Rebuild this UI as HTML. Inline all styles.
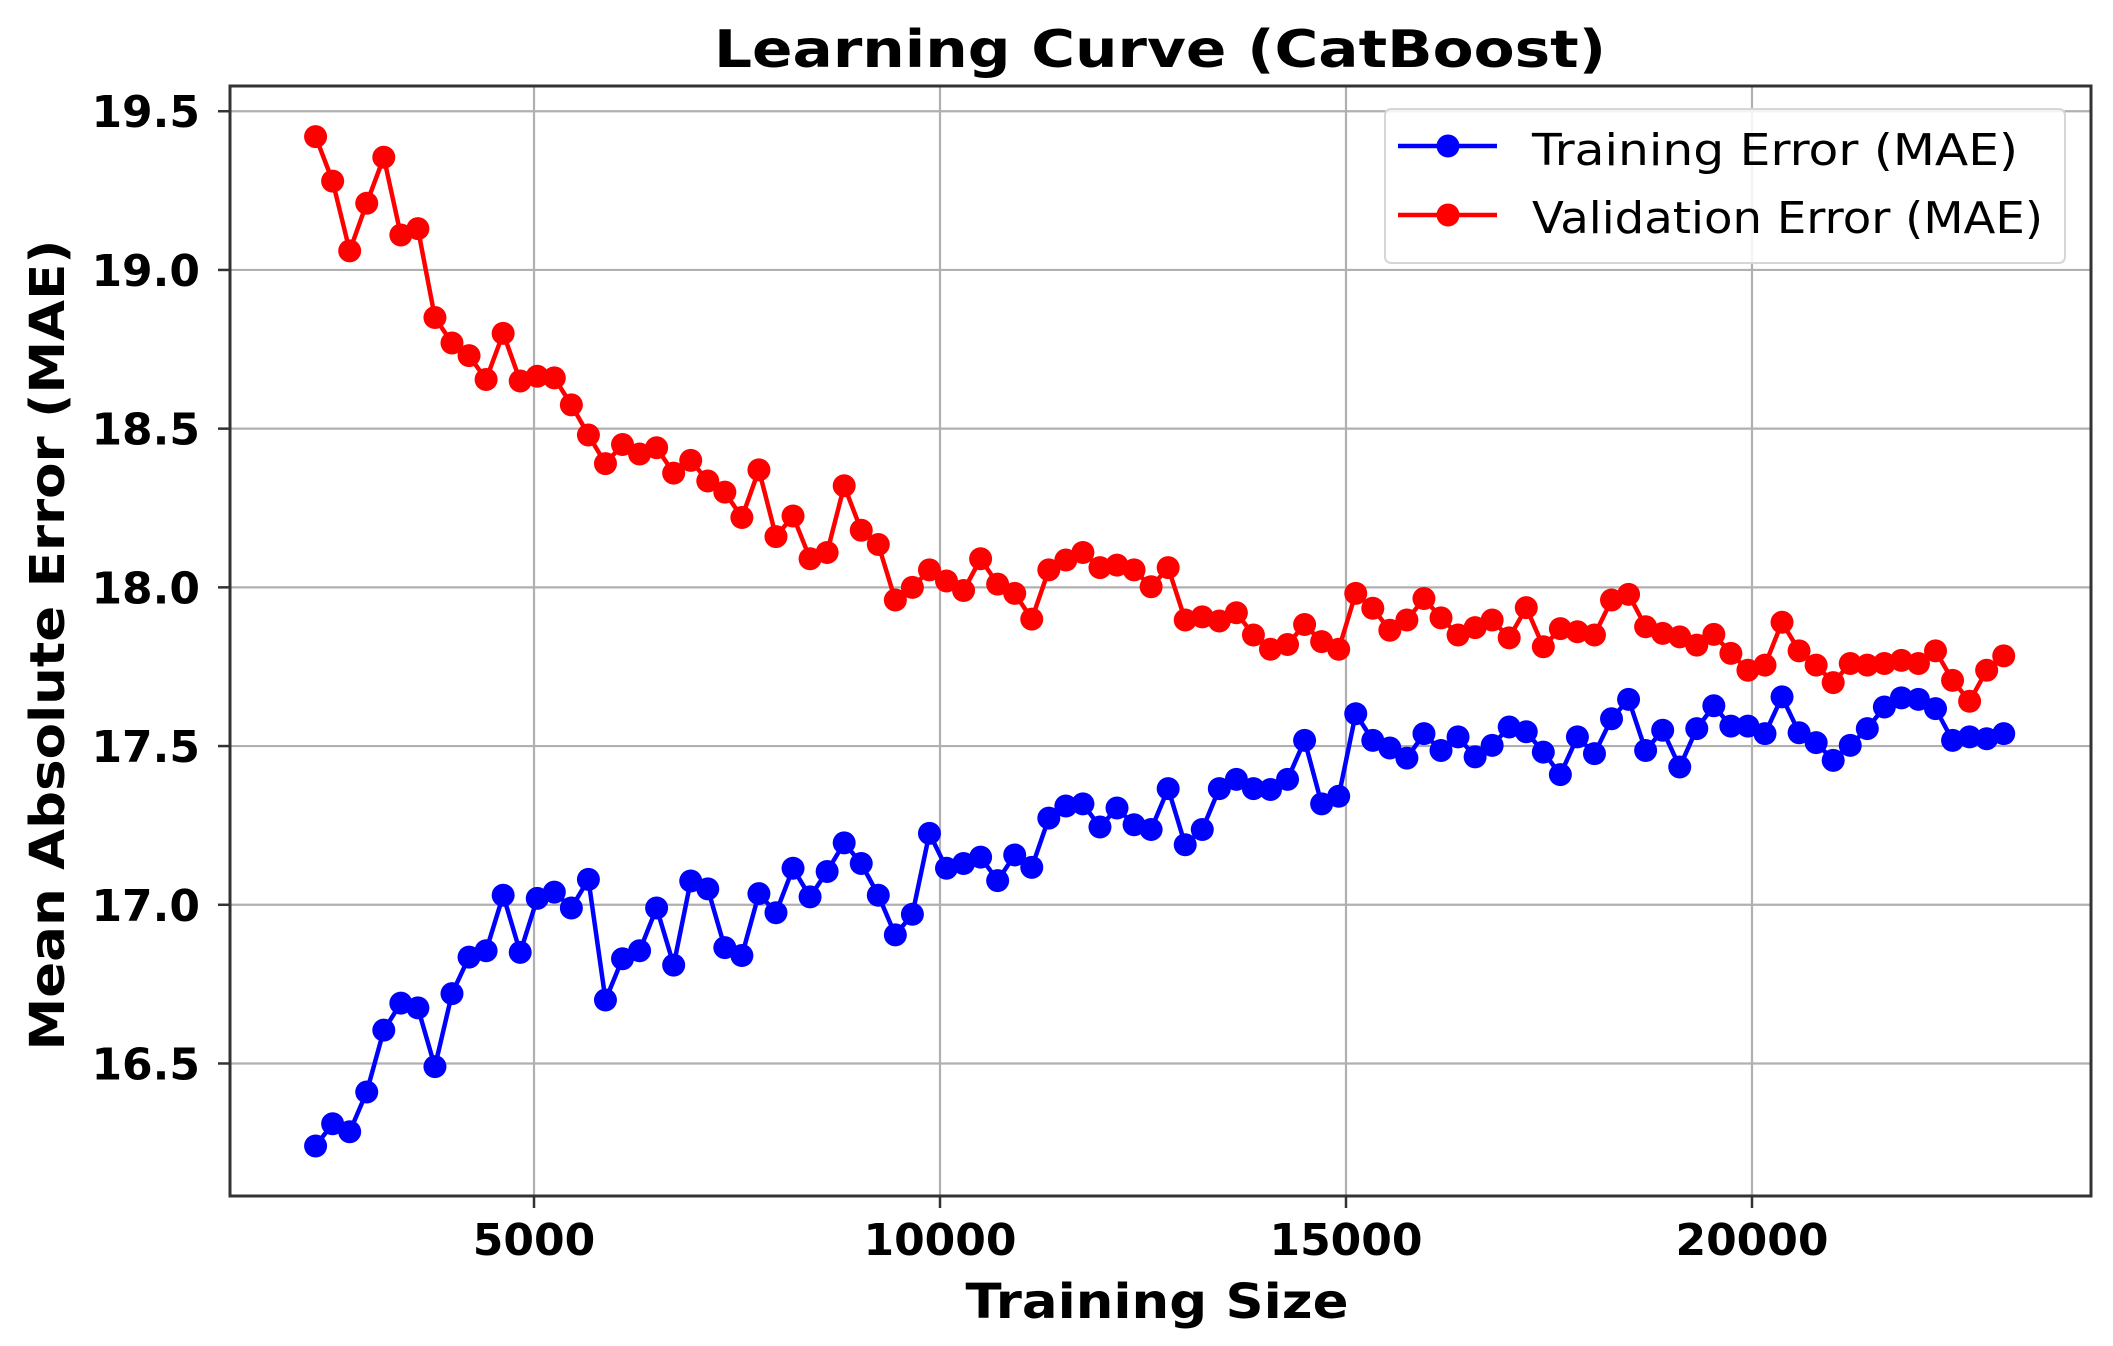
<!DOCTYPE html>
<html><head><meta charset="utf-8"><style>
html,body{margin:0;padding:0;background:#fff;width:2113px;height:1346px;overflow:hidden}
svg{display:block}
text{font-family:"DejaVu Sans","Liberation Sans",sans-serif}
</style></head><body>
<svg id="chart" width="2113" height="1346" viewBox="0 0 2113 1346" xmlns="http://www.w3.org/2000/svg"></svg>
<script>
const trainSizes = [];
const sizeStart = 2310, sizeStep = 210, sizeCount = 100;
for (let i = 0; i < sizeCount; i++) trainSizes.push(sizeStart + sizeStep * i);
const trainError = [16.24,16.31,16.285,16.41,16.605,16.69,16.675,16.49,16.72,16.835,16.855,17.03,16.85,17.02,17.04,16.99,17.08,16.70,16.83,16.855,16.99,16.81,17.075,17.05,16.865,16.84,17.035,16.975,17.115,17.025,17.105,17.195,17.13,17.03,16.905,16.97,17.225,17.115,17.13,17.15,17.076,17.157,17.118,17.273,17.311,17.318,17.245,17.305,17.252,17.237,17.366,17.189,17.237,17.366,17.395,17.366,17.363,17.395,17.518,17.318,17.342,17.602,17.518,17.494,17.462,17.539,17.486,17.529,17.466,17.502,17.56,17.545,17.481,17.41,17.529,17.476,17.586,17.647,17.486,17.55,17.434,17.555,17.627,17.563,17.563,17.539,17.655,17.542,17.511,17.455,17.502,17.555,17.623,17.652,17.647,17.618,17.518,17.529,17.523,17.539];
const valError = [19.42,19.28,19.06,19.21,19.355,19.11,19.13,18.85,18.77,18.73,18.655,18.80,18.65,18.665,18.66,18.575,18.48,18.39,18.45,18.42,18.44,18.36,18.40,18.335,18.30,18.22,18.37,18.16,18.225,18.09,18.11,18.32,18.18,18.135,17.96,18.0,18.055,18.02,17.99,18.09,18.01,17.981,17.90,18.055,18.086,18.11,18.062,18.07,18.055,18.002,18.062,17.897,17.907,17.894,17.92,17.85,17.805,17.82,17.883,17.829,17.805,17.981,17.934,17.865,17.897,17.965,17.904,17.85,17.873,17.897,17.841,17.936,17.813,17.87,17.86,17.85,17.96,17.978,17.876,17.855,17.844,17.818,17.852,17.792,17.739,17.755,17.89,17.80,17.755,17.70,17.76,17.755,17.76,17.77,17.76,17.80,17.707,17.641,17.739,17.784];
const xTicks = [5000,10000,15000,20000];
const xTickLabels = ["5000","10000","15000","20000"];
const yTicks = [16.5,17.0,17.5,18.0,18.5,19.0,19.5];
const yTickLabels = ["16.5","17.0","17.5","18.0","18.5","19.0","19.5"];

const NS = "http://www.w3.org/2000/svg";
const svg = document.getElementById("chart");
const L = 230, R = 2091, T = 86, B = 1196;
const xMin = 1256, xMax = 24175, yMin = 16.0825, yMax = 19.5795;
function xs(v){ return L + (v - xMin) / (xMax - xMin) * (R - L); }
function ys(v){ return B - (v - yMin) / (yMax - yMin) * (B - T); }
function el(tag, attrs, parent){
  const e = document.createElementNS(NS, tag);
  for (const k in attrs) e.setAttribute(k, attrs[k]);
  (parent || svg).appendChild(e);
  return e;
}

const grid = el("g", {});


xTicks.forEach((t, i) => {
  const x = xs(t);
  const g = el("line", {x1:x, x2:x, y1:T, y2:B, stroke:"#b0b0b0", "stroke-width":2.2}, grid);
  
  
  const tk = el("line", {x1:x, x2:x, y1:B, y2:B+12, stroke:"#333", "stroke-width":2.5});
  
  
  const lb = el("text", {x:x, y:1255, "text-anchor":"middle", "font-size":44, "font-weight":"bold", fill:"#000"});
  lb.textContent = xTickLabels[i];
  
  
});
yTicks.forEach((t, i) => {
  const y = ys(t);
  const g = el("line", {x1:L, x2:R, y1:y, y2:y, stroke:"#b0b0b0", "stroke-width":2.2}, grid);
  
  
  const tk = el("line", {x1:L-12, x2:L, y1:y, y2:y, stroke:"#333", "stroke-width":2.5});
  
  
  const lb = el("text", {x:200, y:y+16, "text-anchor":"end", "font-size":44, "font-weight":"bold", fill:"#000"});
  lb.textContent = yTickLabels[i];
  
  
});

function series(vals, color, name){
  const g = el("g", {});
  
  
  const pts = vals.map((v, i) => xs(trainSizes[i]).toFixed(1) + "," + ys(v).toFixed(1)).join(" ");
  const pl = el("polyline", {points:pts, fill:"none", stroke:color, "stroke-width":4.5, "stroke-linejoin":"round"}, g);
  
  
  vals.forEach((v, i) => {
    const c = el("circle", {cx:xs(trainSizes[i]), cy:ys(v), r:11.5, fill:color}, g);
    
    
  });
}
series(trainError, "#0000ff", "training-error-series");
series(valError, "#ff0000", "validation-error-series");

const frame = el("rect", {x:L, y:T, width:R-L, height:B-T, fill:"none", stroke:"#333", "stroke-width":3});



const title = el("text", {x:1160, y:67, "text-anchor":"middle", "font-size":52, "font-weight":"bold", textLength:892, lengthAdjust:"spacingAndGlyphs"});
title.textContent = "Learning Curve (CatBoost)";



const xl = el("text", {x:1157, y:1318, "text-anchor":"middle", "font-size":48, "font-weight":"bold", textLength:383, lengthAdjust:"spacingAndGlyphs"});
xl.textContent = "Training Size";



const yl = el("text", {x:0, y:0, "text-anchor":"middle", "font-size":48, "font-weight":"bold", textLength:811, lengthAdjust:"spacingAndGlyphs", transform:"translate(64,645) rotate(-90)"});
yl.textContent = "Mean Absolute Error (MAE)";



const leg = el("g", {});


const lbox = el("rect", {x:1385, y:109, width:680, height:154, rx:6, fill:"#fff", "fill-opacity":0.85, stroke:"#d6d6d6", "stroke-width":2}, leg);


[["Training Error (MAE)", "#0000ff", 146, 165, 486], ["Validation Error (MAE)", "#ff0000", 215, 233, 511]].forEach(d => {
  const eg = el("g", {}, leg);
  
  
  el("line", {x1:1398, x2:1497, y1:d[2], y2:d[2], stroke:d[1], "stroke-width":4.5}, eg);
  el("circle", {cx:1448, cy:d[2], r:11.5, fill:d[1]}, eg);
  const t = el("text", {x:1532, y:d[3], "font-size":44, fill:"#000", textLength:d[4], lengthAdjust:"spacingAndGlyphs"}, eg);
  t.textContent = d[0];
  
  
});
</script>
</body></html>
